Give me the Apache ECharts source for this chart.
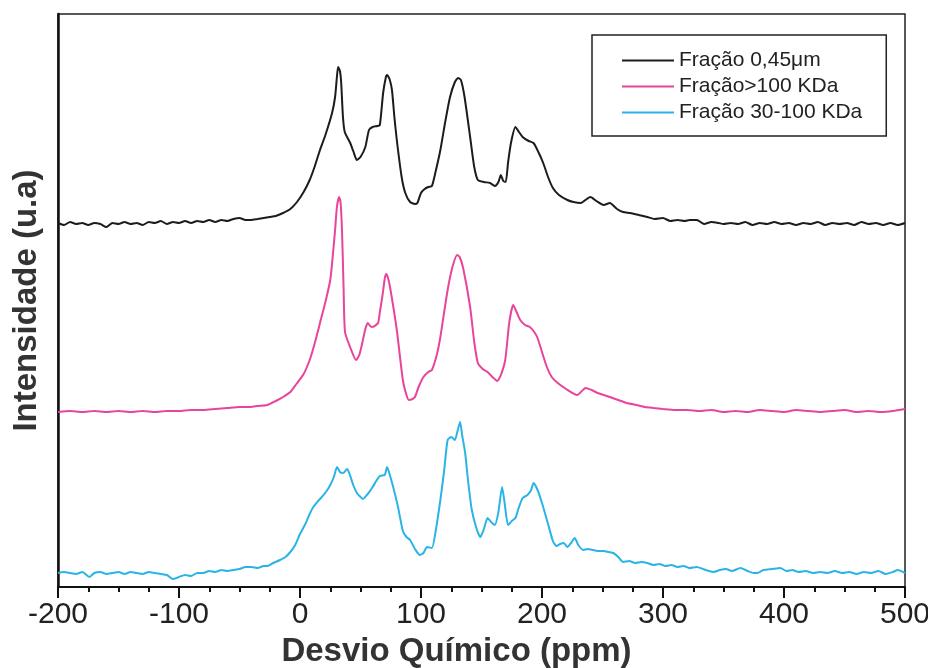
<!DOCTYPE html>
<html>
<head>
<meta charset="utf-8">
<script src="https://cdn.jsdelivr.net/npm/echarts@6/dist/echarts.min.js"></script>
<style>html,body{margin:0;padding:0;background:#fff;}#c{width:928px;height:668px;}</style>
</head>
<body>
<div id="c"></div>
<script>
const seriesNames = ['Fração 0,45μm', 'Fração>100 KDa', 'Fração 30-100 KDa'];
const xTicks = [-200, -100, 0, 100, 200, 300, 400, 500];

const black = [[-200,364],[-195,362],[-190,365],[-185,363],[-180,364],[-175,362],[-170,364],[-165,363],[-160,360],[-155,364],[-150,363],[-145,365],[-140,363],[-135,364],[-130,362],[-125,365],[-120,364],[-115,366],[-110,363],[-105,365],[-100,364],[-95,366],[-90,364],[-85,366],[-80,365],[-75,367],[-70,365],[-65,367],[-60,366],[-55,368],[-50,369],[-45,367],[-41,367],[-35,368],[-30,369],[-25,370],[-20,371],[-14,374],[-8,378],[-2.5,385],[3,395],[8,407],[12,420],[16.5,437],[21,452],[26.5,474],[29,490],[30.5,510],[31.5,520],[33,516],[34,505],[35.5,470],[37,455],[41.5,444],[44,436],[47,427],[50,430],[54,440],[57,457],[60,460],[64,461],[66,462],[68.7,494],[71,510],[72,512],[74,508],[76,497],[78,470],[80,447],[84,410],[87,394],[91,385],[95,383],[97,384],[100,394],[103,398],[106,400],[109,401],[112,415],[116,437],[120,465],[124,490],[128,505],[130.7,509],[133,507],[136,490],[140.6,450],[144,420],[147,407],[152,405],[157,404],[161,401],[164,405],[166,412],[168,406],[170,405],[172,425],[174.5,445],[178,460],[181,455],[184,450],[189,446],[193,444],[197,435],[201,424],[205,410],[209,399],[214,392],[221,387],[226,385],[232,384],[237,388],[240,390],[245,386],[251,382],[256,384],[262,378],[267,375],[273,374],[280,372],[287,370],[293,368],[300,369],[306,366],[312,367],[318,366],[322,367],[328,367],[334,363],[340,365],[346,364],[350,363],[356,364],[362,363],[368,365],[374,362],[380,364],[386,363],[392,365],[398,363],[404,364],[410,362],[416,364],[422,363],[428,365],[434,362],[440,364],[446,363],[452,364],[458,362],[464,365],[470,363],[476,364],[482,362],[488,364],[494,362],[500,364]];

const pink = [[-200,175],[-190,176],[-180,175],[-170,176],[-160,175],[-150,176],[-140,175],[-130,176],[-120,175],[-110,176],[-100,176],[-90,177],[-80,177],[-70,178],[-60,179],[-50,180],[-41,180],[-35,181],[-27,182],[-20,186],[-14,190],[-8,195],[-3,203],[3,213],[8,227],[12,243],[16.5,264],[21,285],[25,307],[27,330],[29,357],[30.5,380],[32.3,390],[33.5,385],[34.7,357],[36,300],[37.2,255],[41.4,240],[46.3,227],[49,232],[52,247],[54,258],[56,264],[58,261],[60,260],[64.5,264],[66,275],[68,290],[70,308],[71.1,313],[72.5,310],[74.4,300],[80,257],[85,207],[88,192],[90,187],[93,188],[95,190],[98,200],[102,210],[106,215],[109,217],[113,232],[116,250],[122,297],[126,320],[129.9,332],[132,330],[135,318],[140.6,280],[144,245],[147,224],[151,218],[155,215],[159,210],[163,206],[166,212],[169.6,227],[173,265],[176.2,282],[179,275],[182,267],[186,262],[190,260],[193,256],[196,250],[200,235],[204,220],[208,210],[213,204],[220,198],[229,192],[233,196],[236,199],[241,197],[246,194],[251,192],[256,190],[263,187],[270,184],[278,182],[285,180],[292,179],[300,178],[310,177],[320,177],[330,176],[340,177],[350,175],[360,176],[370,175],[380,177],[390,176],[400,175],[410,177],[420,176],[430,175],[440,176],[450,177],[460,175],[470,176],[480,175],[490,176],[500,178]];

const cyan = [[-200,14],[-195,15],[-190,14],[-185,13],[-180,15],[-174,10],[-170,14],[-165,15],[-160,13],[-155,14],[-150,15],[-145,13],[-140,15],[-135,14],[-130,13],[-125,15],[-120,14],[-115,13],[-110,12],[-105,8],[-100,10],[-95,12],[-90,11],[-85,14],[-80,14],[-75,16],[-70,15],[-65,17],[-60,16],[-55,17],[-50,18],[-45,20],[-40,20],[-35,19],[-30,21],[-27,21],[-22,24],[-16.5,27],[-12,30],[-8,35],[-4,42],[0,53],[4,62],[8,73],[11,80],[15,86],[18,90],[22,96],[25,102],[28,110],[30.6,120],[33,115],[35.6,114],[38.9,118],[41,113],[44,102],[47,94],[50,90],[52,88],[56,93],[60,100],[63,106],[66,111],[70,112],[72,120],[74,113],[77,100],[81,80],[85,56],[88,50],[91,47],[95,38],[99,32],[102,34],[105,40],[109,39],[112,55],[116,87],[119,115],[122,147],[125,150],[128,147],[130,155],[132.3,165],[134,152],[136.5,134],[139,105],[142,77],[146,58],[149,50],[152,58],[155,69],[158,65],[161,62],[164,75],[167,100],[169,85],[172,62],[175,66],[178,69],[181,80],[184,89],[188,92],[191,97],[193,104],[196,98],[200,84],[205,63],[209,46],[212,41],[215,43],[218,44],[221,40],[224,44],[227,49],[230,42],[234,37],[238,38],[242,37],[246,36],[251,36],[255,35],[259,34],[263,30],[267,25],[272,26],[277,24],[282,25],[287,24],[292,22],[297,23],[302,21],[307,22],[312,20],[317,21],[322,19],[328,20],[333,18],[338,16],[342,15],[347,17],[352,18],[357,16],[364,19],[370,16],[375,14],[378,14],[383,17],[390,18],[397,19],[402,16],[407,17],[412,15],[418,16],[424,14],[430,15],[436,14],[442,16],[448,14],[454,15],[460,13],[466,15],[472,14],[478,16],[484,13],[490,15],[494,17],[500,14]];

const colors = ['#1c1c1c', '#e8449a', '#2ab4e6'];

const chart = echarts.init(document.getElementById('c'), null, {renderer: 'canvas'});
const mk = (name, data, color) => ({
  name, type: 'line', data, symbol: 'none', smooth: 0.2,
  lineStyle: {color, width: 2}, itemStyle: {color}, animation: false
});
chart.setOption({
  animation: false,
  backgroundColor: '#fff',
  grid: {left: 58, right: 23, top: 14, bottom: 81, show: true, borderColor: '#222', borderWidth: 1.5,
    backgroundColor: 'transparent', containLabel: false, outerBoundsMode: 'none'},
  legend: {
    orient: 'vertical', left: 592, top: 35,
    data: seriesNames,
    icon: 'rect', itemWidth: 52, itemHeight: 2, itemGap: 5,
    padding: [15, 24, 13, 30],
    borderColor: '#222', borderWidth: 1.5,
    textStyle: {fontFamily: 'Liberation Sans', fontSize: 21, color: '#222', lineHeight: 21},
    selectedMode: false
  },
  xAxis: {
    type: 'value', min: -200, max: 500, interval: 100,
    name: 'Desvio Químico (ppm)', nameLocation: 'middle', nameGap: 48,
    nameTextStyle: {fontFamily: 'Liberation Sans', fontWeight: 'bold', fontSize: 33, color: '#333', padding: [0, 50, 0, 0]},
    axisLine: {show: true, onZero: false, lineStyle: {color: '#111', width: 2}},
    axisTick: {show: true, length: 11, lineStyle: {color: '#111', width: 2}},
    minorTick: {show: true, splitNumber: 4, length: 5, lineStyle: {color: '#111', width: 2}},
    axisLabel: {margin: 13, fontFamily: 'Liberation Sans', fontSize: 30, color: '#222',
      formatter: v => xTicks.includes(v) ? String(v) : ''},
    splitLine: {show: false}, minorSplitLine: {show: false}
  },
  yAxis: {
    type: 'value', min: 0, max: 573,
    name: 'Intensidade (u.a)', nameLocation: 'middle', nameGap: 15,
    nameTextStyle: {fontFamily: 'Liberation Sans', fontWeight: 'bold', fontSize: 33, color: '#333'},
    axisLine: {show: true, onZero: false, lineStyle: {color: '#111', width: 2.5}},
    axisTick: {show: false}, axisLabel: {show: false}, splitLine: {show: false}
  },
  series: [mk(seriesNames[0], black, colors[0]), mk(seriesNames[1], pink, colors[1]), mk(seriesNames[2], cyan, colors[2])]
});
</script>
</body>
</html>
